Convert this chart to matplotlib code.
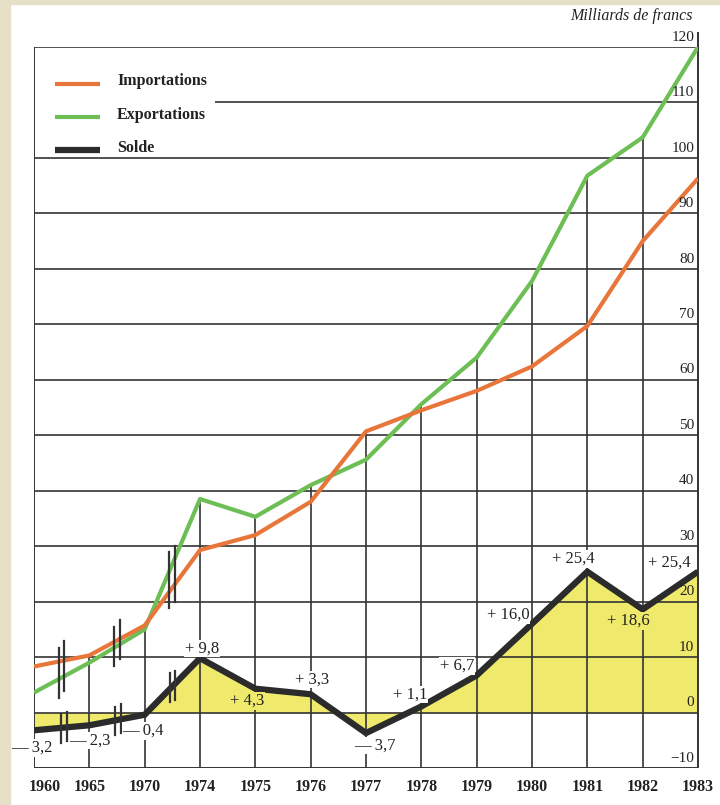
import matplotlib.pyplot as plt
from matplotlib.patches import Rectangle

# données (milliards de francs)
annees = ["1960", "1965", "1970", "1974", "1975", "1976", "1977",
          "1978", "1979", "1980", "1981", "1982", "1983"]
importations = [8.3, 10.3, 15.7, 29.3, 32.0, 38.0, 50.7,
                54.5, 58.0, 62.4, 69.7, 85.0, 96.3]
exportations = [3.6, 9.0, 15.0, 38.5, 35.3, 41.0, 45.6,
                55.6, 64.0, 77.8, 96.8, 103.7, 120.0]
solde = [-3.2, -2.3, -0.4, 9.8, 4.3, 3.3, -3.7,
         1.1, 6.7, 16.0, 25.4, 18.6, 25.4]
solde_txt = ["— 3,2", "— 2,3", "— 0,4", "+ 9,8", "+ 4,3", "+ 3,3", "— 3,7",
             "+ 1,1", "+ 6,7", "+ 16,0", "+ 25,4", "+ 18,6", "+ 25,4"]
graduations = [-10, 0, 10, 20, 30, 40, 50, 60, 70, 80, 90, 100, 110, 120]

ORANGE = "#e8763a"
VERT = "#6dbe55"
NOIR = "#2b2b2b"
JAUNE = "#efea6c"
GRILLE = "#333333"
SERIF = "Liberation Serif"

fig = plt.figure(figsize=(7.2, 8.05), dpi=100)
fig.patch.set_facecolor("white")
# bordure beige de la page scannée
fig.patches.append(Rectangle((0, 0), 10 / 720, 1, transform=fig.transFigure,
                             color="#e6e0c8", zorder=0))
fig.patches.append(Rectangle((0, 1 - 4 / 805), 1, 4 / 805, transform=fig.transFigure,
                             color="#e6e0c8", zorder=0))

ax = fig.add_axes([34 / 720, 1 - 768 / 805, 664 / 720, 721 / 805])
ax.set_xlim(0, 12)
ax.set_ylim(-10, 120)
ax.axis("off")
x = list(range(len(annees)))

# zone jaune du solde
ax.fill_between(x, solde, 0, color=JAUNE, zorder=1, linewidth=0)

# quadrillage
for g in graduations:
    if g == -10:
        continue
    debut = 3.27 if g == 110 else 0
    ax.hlines(g, debut, 12, color=GRILLE, lw=1.2, zorder=2)
ax.hlines(-10, 0, 12, color=GRILLE, lw=1.4, zorder=2)
ax.vlines(0, -10, 120, color=GRILLE, lw=1.4, zorder=2)
ax.vlines(12, -10, 122.7, color=GRILLE, lw=1.4, zorder=2, clip_on=False)
for i in x[1:-1]:
    ax.vlines(i, -10, max(importations[i], exportations[i]), color=GRILLE, lw=1.2, zorder=2)

# courbes
ax.plot(x, importations, color=ORANGE, lw=3, zorder=4, solid_capstyle="butt")
ax.plot(x, exportations, color=VERT, lw=3, zorder=3, solid_capstyle="butt")
ax.plot(x, solde, color=NOIR, lw=4.5, zorder=5, solid_joinstyle="miter",
        solid_capstyle="butt")

# signes de rupture d'échelle
def interp(serie, xp):
    i = int(xp)
    t = xp - i
    return serie[i] + t * (serie[i + 1] - serie[i])

for xp in [0.5, 1.5, 2.49]:
    bas = min(interp(importations, xp), interp(exportations, xp)) - 3
    haut = max(interp(importations, xp), interp(exportations, xp)) + 3
    ax.plot([xp - 0.05, xp - 0.05], [bas - 0.6, haut - 0.6], color=GRILLE, lw=1.6, zorder=6)
    ax.plot([xp + 0.05, xp + 0.05], [bas + 0.6, haut + 0.6], color=GRILLE, lw=1.6, zorder=6)
for xp in [0.54, 1.52, 2.5]:
    ys = interp(solde, xp)
    ax.plot([xp - 0.05, xp - 0.05], [ys - 2.8, ys + 2.4], color=GRILLE, lw=1.6, zorder=6)
    ax.plot([xp + 0.05, xp + 0.05], [ys - 2.4, ys + 2.8], color=GRILLE, lw=1.6, zorder=6)

# étiquettes du solde
pos_txt = [(-0.04, -6.4), (1.01, -5.1), (1.97, -3.3), (3.04, 11.6), (3.85, 2.1),
           (5.02, 5.9), (6.16, -5.9), (6.8, 3.3), (7.65, 8.4), (8.57, 17.6),
           (9.74, 27.7), (10.74, 16.5), (11.49, 27.0)]
for txt, (tx, ty), v in zip(solde_txt, pos_txt, solde):
    fond = JAUNE if txt in ("+ 4,3", "+ 18,6") else "white"
    ax.text(tx, ty, txt, ha="center", va="center", fontsize=12, family=SERIF,
            color="#222222", zorder=7, clip_on=False,
            bbox=dict(facecolor=fond, edgecolor="none", pad=0.5))

# graduations (à droite, dans le cadre)
for g in graduations:
    lab = "−10" if g == -10 else str(g)
    ax.text(11.93, g + 0.6, lab, ha="right", va="bottom", fontsize=11,
            family=SERIF, color="#222222", zorder=7)

# années
for i, a in enumerate(annees):
    xx = i + 0.2 if i == 0 else i
    ax.text(xx, -13.5, a, ha="center", va="center", fontsize=11.5,
            family=SERIF, weight="bold", color="#222222", clip_on=False)

ax.text(11.9, 125.5, "Milliards de francs", ha="right", va="center", fontsize=11.5,
        family=SERIF, style="italic", color="#222222", clip_on=False)

# légende
legende = [("Importations", ORANGE, 3, 113.4),
           ("Exportations", VERT, 3, 107.3),
           ("Solde", NOIR, 4.5, 101.4)]
for nom, coul, ep, yy in legende:
    ax.plot([0.38, 1.19], [yy, yy], color=coul, lw=ep, solid_capstyle="butt", zorder=6)
    ax.text(1.5, yy + 0.4, nom, ha="left", va="center", fontsize=11.5,
            family=SERIF, weight="bold", color="#222222", zorder=6)

plt.savefig("out.png", dpi=100)
